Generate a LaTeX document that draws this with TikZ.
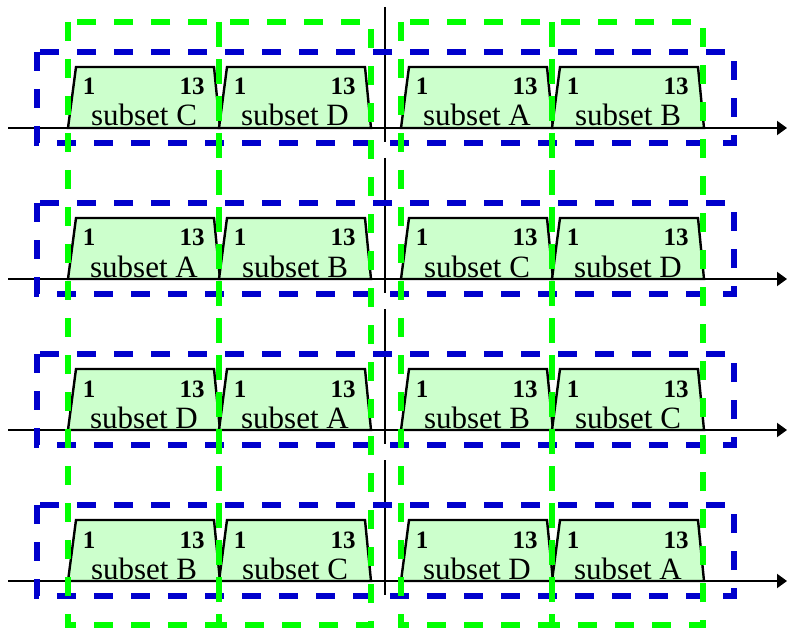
\documentclass[tikz,border=0pt]{standalone}
\usepackage{fontspec}
\setmainfont{Liberation Serif}
\usetikzlibrary{arrows.meta}
\definecolor{bandgreen}{RGB}{0,255,0}
\definecolor{rowblue}{RGB}{0,0,204}
\definecolor{slotfill}{RGB}{204,255,204}

\begin{document}
\begin{tikzpicture}[x=1pt,y=-1pt]
    \tikzstyle{every node}=[inner sep=0pt]
    \tikzstyle{slot}=[draw=black,fill=slotfill,line width=2.4pt]
    \tikzstyle{num}=[font=\fontsize{25}{25}\selectfont\bfseries,anchor=base]
    \tikzstyle{setname}=[font=\fontsize{31}{31}\selectfont,anchor=base]
    \tikzstyle{axis}=[draw=black,line width=2pt]
    \tikzstyle{row box}=[draw=rowblue,line width=5.5pt,dash pattern=on 19pt off 18pt]
    \tikzstyle{col box}=[draw=bandgreen,line width=5.5pt,dash pattern=on 19pt off 18pt]
    \useasboundingbox (0,0) rectangle (787,631);
    \foreach \row/\sa/\sb/\sc/\sd in {0/C/D/A/B,1/A/B/C/D,2/D/A/B/C,3/B/C/D/A} {
        \pgfmathsetmacro{\y}{128+151*\row}
        % four subsets on the time axis
        \foreach \x/\n [count=\col] in {68/\sa,219/\sb,401/\sc,552/\sd} {
            \draw[slot] (\x,\y) -- (\x+8,\y-61) -- (\x+146,\y-61) -- (\x+152,\y) -- cycle;
            \node[num] (lo-\row-\col) at (\x+21,\y-33) {1};
            \node[num] (hi-\row-\col) at (\x+124,\y-33) {13};
            \node[setname] (set-\row-\col) at (\x+76,\y-2) {subset \n};
        }
        \coordinate (t-\row-s) at (8,\y);
        \coordinate (t-\row-e) at (787,\y);
        \draw[axis,-{Triangle[length=10pt,width=14pt]}] (t-\row-s) -- (t-\row-e);
        \coordinate (mid-\row-s) at (385,\y-121);
        \coordinate (mid-\row-e) at (385,\y+14);
        \draw[axis] (mid-\row-s) -- (mid-\row-e);
        \draw[row box] (37,\y-76) rectangle (734,\y+15);
    }
    % columns over all rows
    \foreach \x/\w in {68/219,219/371,401/552,552/703}
        \draw[col box] (\x,22) rectangle (\w,625);
\end{tikzpicture}
\end{document}
